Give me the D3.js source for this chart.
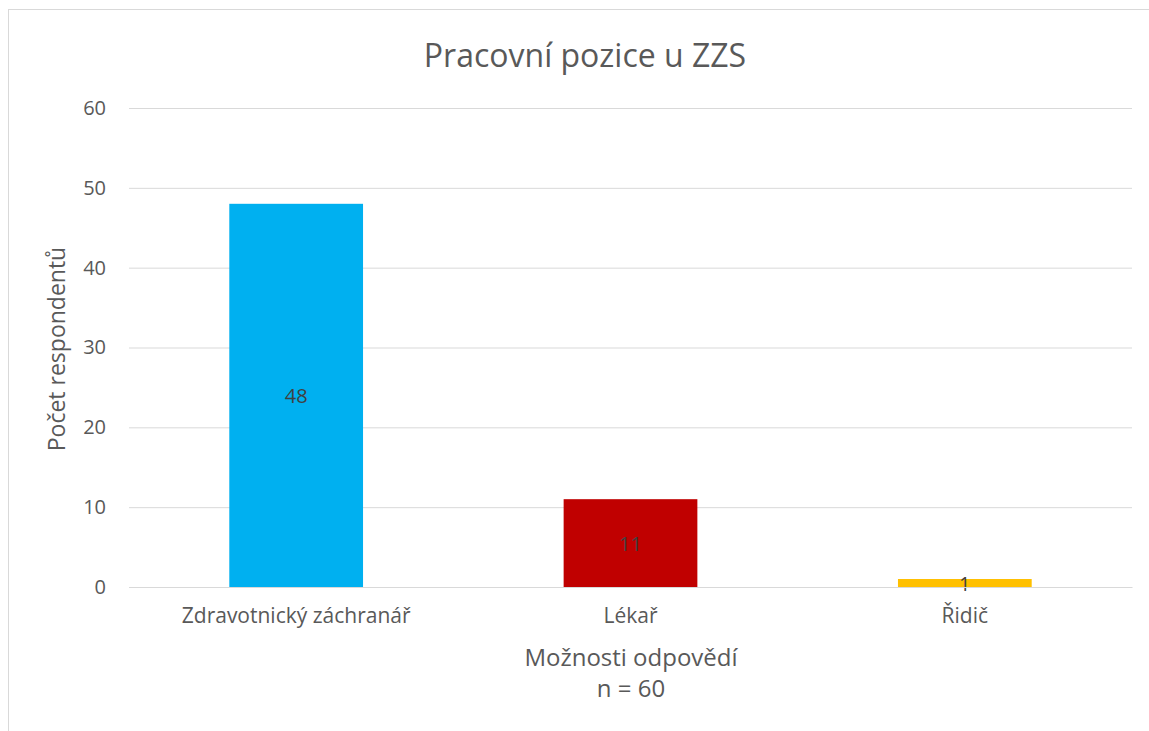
<!DOCTYPE html>
<html>
<head>
<meta charset="utf-8">
<script src="https://cdn.jsdelivr.net/npm/d3@7"></script>
<style>
  body { margin: 0; background: #fff; }
  svg { font-family: "Open Sans", sans-serif; }
</style>
</head>
<body>
<svg></svg>
<script>
let categories = ['Zdravotnický záchranář', 'Lékař', 'Řidič']
let values = [48, 11, 1]
let colors = ['#00b0f0', '#c00000', '#ffc000']
let yTicks = [0, 10, 20, 30, 40, 50, 60]

let width = 1149
let height = 731
let plotLeft = 129, plotRight = 1132, plotTop = 108, plotBottom = 587

let svg = d3.select('svg')
    .attr('width', width)
    .attr('height', height)

// chart frame
svg.append('rect')
    .attr('x', 8.5)
    .attr('y', 9.5)
    .attr('width', 1160)
    .attr('height', 740)
    .attr('fill', 'none')
    .attr('stroke', '#d9d9d9')

let xScale = d3.scaleBand()
    .domain(categories)
    .range([plotLeft, plotRight])
    .paddingInner(0.6)
    .paddingOuter(0.3)

let yScale = d3.scaleLinear()
    .domain([0, 60])
    .range([plotBottom, plotTop])

// gridlines + y tick labels
let yAxis = d3.axisLeft(yScale)
    .tickValues(yTicks)
    .tickSize(-(plotRight - plotLeft))
    .tickPadding(23)

let gy = svg.append('g')
    .attr('transform', 'translate(' + plotLeft + ', 0)')
    .call(yAxis)
    .attr('font-family', null)
gy.select('.domain').remove()
gy.selectAll('line').attr('stroke', '#d9d9d9')
gy.selectAll('text')
    .attr('fill', '#595959')
    .style('font-size', '20px')

// bars
svg.selectAll('.bar')
    .data(values)
    .enter()
    .append('rect')
    .attr('class', 'bar')
    .attr('x', (d, i) => xScale(categories[i]))
    .attr('y', (d) => yScale(d))
    .attr('width', xScale.bandwidth())
    .attr('height', (d) => plotBottom - yScale(d))
    .attr('fill', (d, i) => colors[i])

// data labels
svg.selectAll('.lbl')
    .data(values)
    .enter()
    .append('text')
    .attr('class', 'lbl')
    .attr('x', (d, i) => xScale(categories[i]) + xScale.bandwidth() / 2)
    .attr('y', (d) => (yScale(d) + plotBottom) / 2 + 1)
    .attr('dy', '0.35em')
    .attr('text-anchor', 'middle')
    .attr('fill', '#404040')
    .style('font-size', '20px')
    .text((d) => d)

// x axis labels
let xAxis = d3.axisBottom(xScale).tickSize(0).tickPadding(21)
let gx = svg.append('g')
    .attr('transform', 'translate(0, ' + plotBottom + ')')
    .call(xAxis)
    .attr('font-family', null)
gx.select('.domain').attr('stroke', '#d9d9d9')
gx.selectAll('text')
    .attr('fill', '#595959')
    .style('font-size', '21px')

// title
svg.append('text')
    .attr('x', 585)
    .attr('y', 67)
    .attr('text-anchor', 'middle')
    .attr('fill', '#595959')
    .style('font-size', '32px')
    .text('Pracovní pozice u ZZS')

// axis titles
svg.append('text')
    .attr('transform', 'translate(65, 349) rotate(-90)')
    .attr('text-anchor', 'middle')
    .attr('fill', '#595959')
    .style('font-size', '23px')
    .text('Počet respondentů')

svg.append('text')
    .attr('x', 631)
    .attr('y', 666)
    .attr('text-anchor', 'middle')
    .attr('fill', '#595959')
    .style('font-size', '24px')
    .text('Možnosti odpovědí')

svg.append('text')
    .attr('x', 631)
    .attr('y', 697)
    .attr('text-anchor', 'middle')
    .attr('fill', '#595959')
    .style('font-size', '24px')
    .text('n = 60')
</script>
</body>
</html>
